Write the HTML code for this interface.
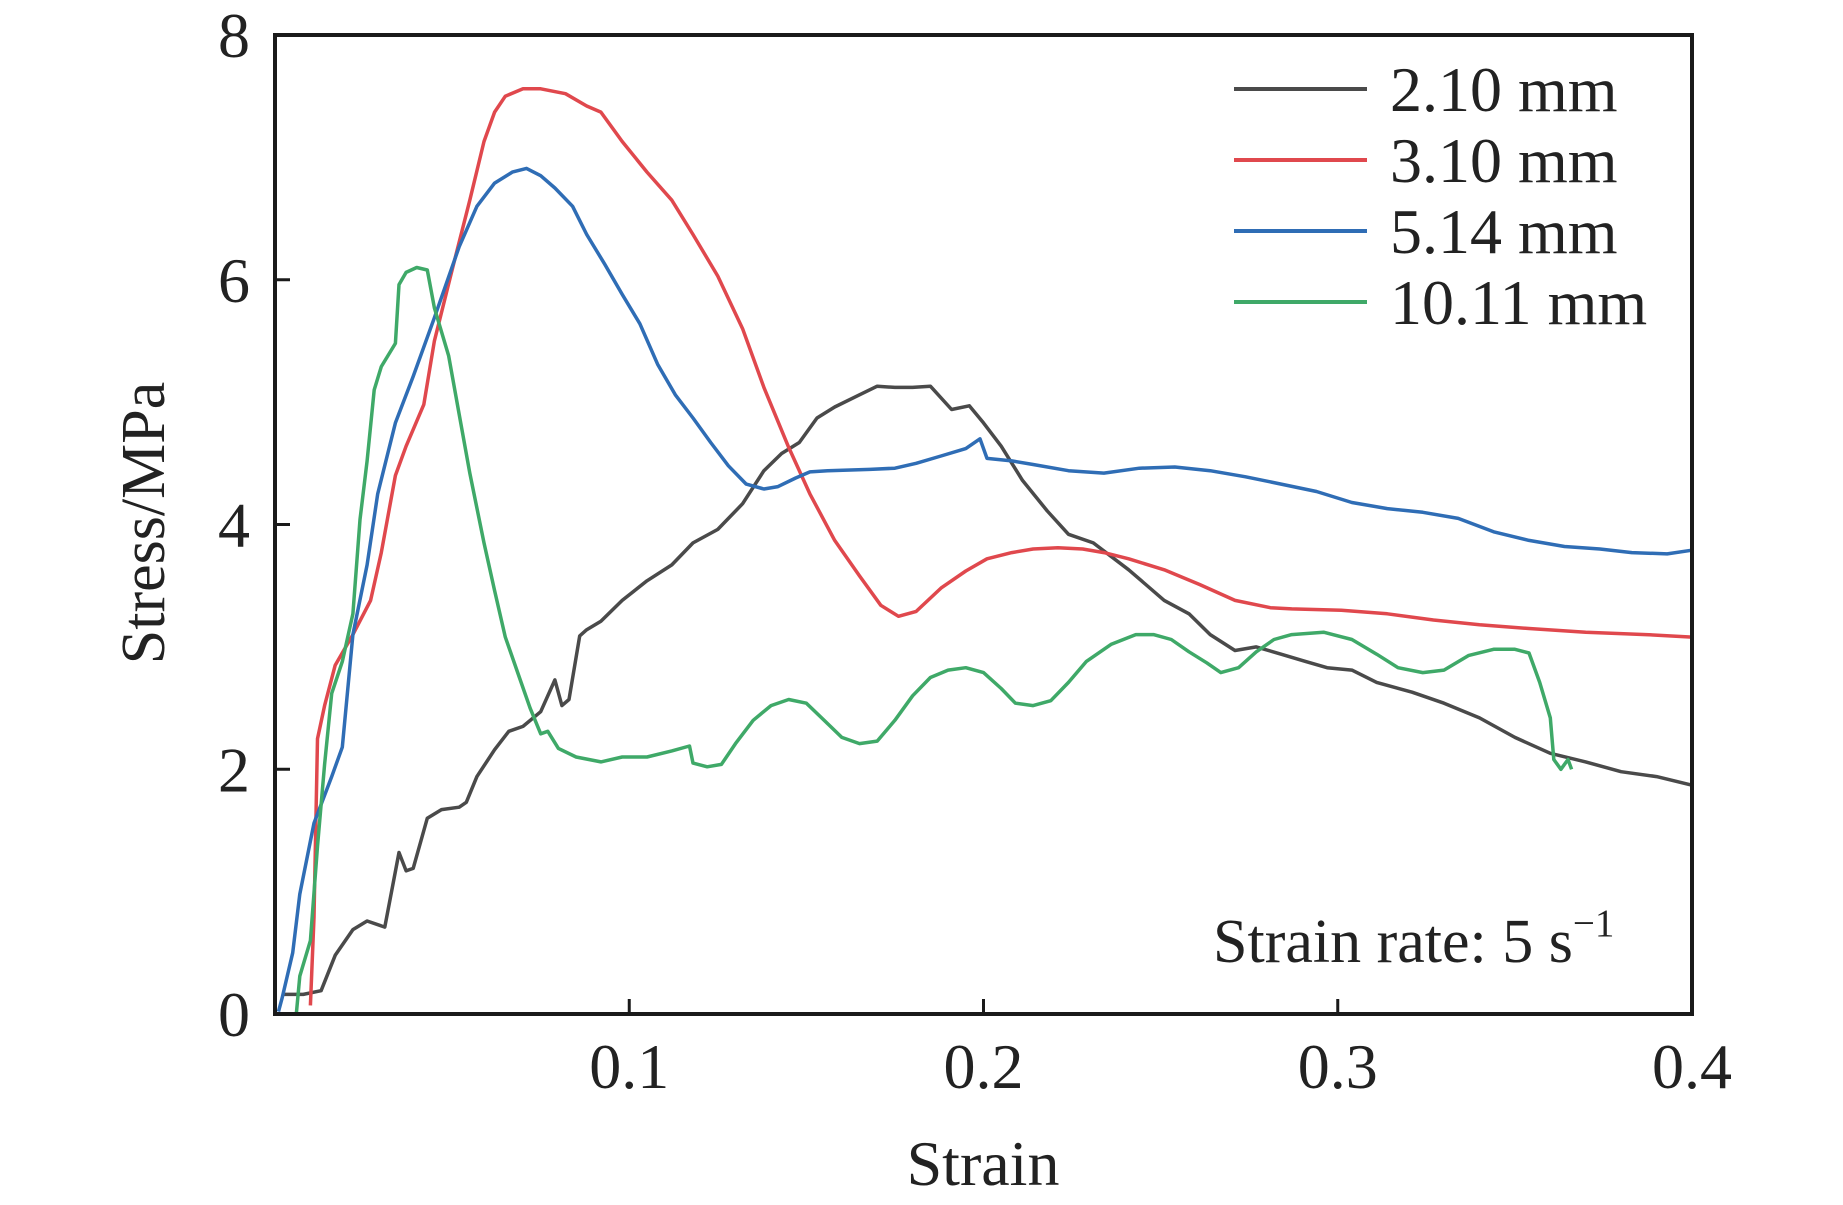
<!DOCTYPE html>
<html><head><meta charset="utf-8"><style>
html,body{margin:0;padding:0;background:#fff;}
svg{display:block;}
text{font-family:"Liberation Serif","Times New Roman",serif;fill:#222;}
</style></head><body>
<svg id="chart" width="1843" height="1205" viewBox="0 0 1843 1205" xmlns="http://www.w3.org/2000/svg">
<g id="plot"></g>
<g id="axes"></g>
<g id="legend"></g>
<text x="1213" y="962" font-size="62">Strain rate: 5 s<tspan font-size="39" dy="-26">−1</tspan></text>
</svg>
<script>
const xTicks=[0.1,0.2,0.3,0.4];
const xTickLabels=["0.1","0.2","0.3","0.4"];
const yTicks=[0,2,4,6,8];
const yTickLabels=["0","2","4","6","8"];
const seriesNames=["2.10 mm","3.10 mm","5.14 mm","10.11 mm"];
const blackX=[0.002,0.008,0.013,0.017,0.022,0.026,0.031,0.035,0.037,0.039,0.043,0.047,0.052,0.054,0.057,0.062,0.066,0.070,0.075,0.079,0.081,0.083,0.086,0.088,0.092,0.098,0.105,0.112,0.118,0.125,0.132,0.138,0.143,0.148,0.153,0.158,0.165,0.170,0.175,0.180,0.185,0.191,0.196,0.200,0.205,0.211,0.218,0.224,0.231,0.241,0.251,0.258,0.264,0.271,0.277,0.284,0.291,0.297,0.304,0.311,0.321,0.330,0.340,0.350,0.360,0.370,0.380,0.390,0.400];
const blackY=[0.16,0.16,0.19,0.48,0.69,0.76,0.71,1.32,1.17,1.19,1.60,1.67,1.69,1.73,1.94,2.16,2.31,2.35,2.47,2.73,2.52,2.57,3.09,3.14,3.21,3.38,3.54,3.67,3.85,3.96,4.17,4.44,4.58,4.67,4.87,4.96,5.06,5.13,5.12,5.12,5.13,4.94,4.97,4.83,4.64,4.36,4.11,3.92,3.85,3.63,3.38,3.27,3.10,2.97,3.00,2.94,2.88,2.83,2.81,2.71,2.63,2.54,2.42,2.26,2.13,2.06,1.98,1.94,1.87];
const redX=[0.010,0.011,0.012,0.014,0.017,0.022,0.027,0.030,0.034,0.037,0.042,0.045,0.050,0.055,0.059,0.062,0.065,0.070,0.075,0.082,0.088,0.092,0.098,0.105,0.112,0.118,0.125,0.132,0.138,0.145,0.151,0.158,0.165,0.171,0.176,0.181,0.188,0.195,0.201,0.208,0.214,0.221,0.228,0.234,0.241,0.251,0.261,0.271,0.281,0.287,0.301,0.314,0.327,0.340,0.354,0.370,0.387,0.400];
const redY=[0.07,0.79,2.25,2.52,2.85,3.10,3.38,3.77,4.40,4.64,4.98,5.50,6.08,6.65,7.13,7.37,7.50,7.56,7.56,7.52,7.42,7.37,7.13,6.88,6.65,6.37,6.03,5.60,5.12,4.63,4.25,3.87,3.58,3.34,3.25,3.29,3.48,3.62,3.72,3.77,3.80,3.81,3.80,3.77,3.72,3.63,3.51,3.38,3.32,3.31,3.30,3.27,3.22,3.18,3.15,3.12,3.10,3.08];
const blueX=[0.001,0.002,0.005,0.007,0.011,0.016,0.019,0.022,0.026,0.029,0.034,0.039,0.045,0.052,0.057,0.062,0.067,0.071,0.075,0.079,0.084,0.088,0.093,0.098,0.103,0.108,0.113,0.118,0.123,0.128,0.133,0.138,0.142,0.147,0.151,0.156,0.168,0.175,0.181,0.188,0.195,0.199,0.201,0.208,0.214,0.224,0.234,0.244,0.254,0.264,0.274,0.284,0.294,0.304,0.314,0.324,0.334,0.344,0.354,0.364,0.374,0.383,0.393,0.400];
const blueY=[0.02,0.13,0.50,0.98,1.56,1.94,2.18,3.10,3.67,4.25,4.83,5.21,5.69,6.27,6.60,6.79,6.88,6.91,6.85,6.75,6.60,6.37,6.13,5.88,5.64,5.31,5.06,4.87,4.67,4.48,4.33,4.29,4.31,4.38,4.43,4.44,4.45,4.46,4.50,4.56,4.62,4.70,4.54,4.52,4.49,4.44,4.42,4.46,4.47,4.44,4.39,4.33,4.27,4.18,4.13,4.10,4.05,3.94,3.87,3.82,3.80,3.77,3.76,3.79];
const greenX=[0.006,0.007,0.010,0.012,0.014,0.016,0.019,0.022,0.024,0.026,0.028,0.030,0.034,0.035,0.037,0.040,0.043,0.045,0.049,0.052,0.055,0.059,0.062,0.065,0.069,0.072,0.075,0.077,0.080,0.085,0.092,0.098,0.105,0.112,0.117,0.118,0.122,0.126,0.130,0.135,0.140,0.145,0.150,0.155,0.160,0.165,0.170,0.175,0.180,0.185,0.190,0.195,0.200,0.205,0.209,0.214,0.219,0.224,0.229,0.236,0.243,0.248,0.253,0.258,0.263,0.267,0.272,0.277,0.282,0.287,0.296,0.304,0.311,0.317,0.324,0.330,0.337,0.344,0.350,0.354,0.357,0.360,0.361,0.363,0.365,0.366];
const greenY=[0,0.31,0.60,1.37,2.04,2.62,2.88,3.27,4.04,4.52,5.10,5.29,5.48,5.96,6.06,6.10,6.08,5.77,5.38,4.90,4.42,3.85,3.46,3.08,2.75,2.50,2.29,2.31,2.17,2.10,2.06,2.10,2.10,2.15,2.19,2.05,2.02,2.04,2.21,2.40,2.52,2.57,2.54,2.40,2.26,2.21,2.23,2.40,2.60,2.75,2.81,2.83,2.79,2.66,2.54,2.52,2.56,2.71,2.88,3.02,3.10,3.10,3.06,2.96,2.87,2.79,2.83,2.96,3.06,3.10,3.12,3.06,2.94,2.83,2.79,2.81,2.93,2.98,2.98,2.95,2.71,2.42,2.08,2.00,2.08,2.00];

const NS="http://www.w3.org/2000/svg";
const X0=275,X1=1692,Y0=1014,Y1=35;
function sx(v){return X0+(v-0)/(0.4-0)*(X1-X0);}
function sy(v){return Y0-(v-0)/(8-0)*(Y0-Y1);}
function mk(tag,parent){const e=document.createElementNS(NS,tag);parent.appendChild(e);return e;}
const plot=document.getElementById('plot'),axes=document.getElementById('axes'),legend=document.getElementById('legend');
const colors=["#4a4a4a","#e0484d","#2f6db5","#3fa968"];
const allSeries=[[blackX,blackY],[redX,redY],[blueX,blueY],[greenX,greenY]];
const sNames=["series-2-10mm","series-3-10mm","series-5-14mm","series-10-11mm"];
allSeries.forEach((s,i)=>{
  const p=mk('path',plot);
  
  
  p.setAttribute('d',s[0].map((x,j)=>(j?'L':'M')+sx(x).toFixed(1)+','+sy(s[1][j]).toFixed(1)).join(''));
  p.setAttribute('fill','none');p.setAttribute('stroke',colors[i]);p.setAttribute('stroke-width','3.5');p.setAttribute('stroke-linejoin','round');
});
const frame=mk('rect',axes);


frame.setAttribute('x',X0);frame.setAttribute('y',Y1);frame.setAttribute('width',X1-X0);frame.setAttribute('height',Y0-Y1);
frame.setAttribute('fill','none');frame.setAttribute('stroke','#1a1a1a');frame.setAttribute('stroke-width','4');
xTicks.forEach((v,i)=>{
  const t=mk('line',axes);
  
  
  t.setAttribute('x1',sx(v));t.setAttribute('x2',sx(v));t.setAttribute('y1',Y0);t.setAttribute('y2',Y0-15);
  t.setAttribute('stroke','#1a1a1a');t.setAttribute('stroke-width','3');
  const l=mk('text',axes);
  
  
  l.setAttribute('x',sx(v));l.setAttribute('y',1088);l.setAttribute('text-anchor','middle');l.setAttribute('font-size','64');
  l.textContent=xTickLabels[i];
});
yTicks.forEach((v,i)=>{
  const t=mk('line',axes);
  
  
  t.setAttribute('x1',X0);t.setAttribute('x2',X0+15);t.setAttribute('y1',sy(v));t.setAttribute('y2',sy(v));
  t.setAttribute('stroke','#1a1a1a');t.setAttribute('stroke-width','3');
  const l=mk('text',axes);
  
  
  l.setAttribute('x',250);l.setAttribute('y',sy(v)+22);l.setAttribute('text-anchor','end');l.setAttribute('font-size','64');
  l.textContent=yTickLabels[i];
});
const xt=mk('text',axes);


xt.setAttribute('x',983);xt.setAttribute('y',1185);xt.setAttribute('text-anchor','middle');xt.setAttribute('font-size','64');
xt.textContent='Strain';
const yt=mk('text',axes);


yt.setAttribute('transform','translate(164,523) rotate(-90)');yt.setAttribute('text-anchor','middle');yt.setAttribute('font-size','62');
yt.textContent='Stress/MPa';
seriesNames.forEach((n,i)=>{
  const y=89+i*71;
  const g=mk('g',legend);
  
  
  const ln=mk('line',g);
  
  
  ln.setAttribute('x1',1234);ln.setAttribute('x2',1367);ln.setAttribute('y1',y);ln.setAttribute('y2',y);
  ln.setAttribute('stroke',colors[i]);ln.setAttribute('stroke-width','4');
  const tx=mk('text',g);
  
  
  tx.setAttribute('x',1390);tx.setAttribute('y',y+22);tx.setAttribute('font-size','64');
  tx.textContent=n;
});
</script>
</body></html>
